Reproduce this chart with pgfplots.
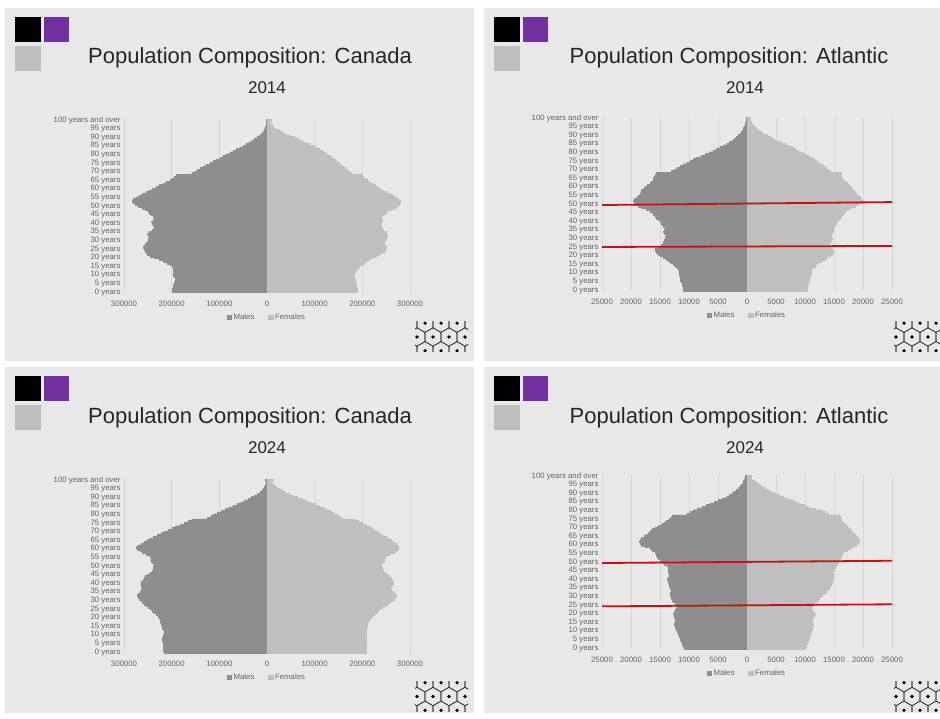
\documentclass[border=0pt]{standalone}
\usepackage{fontspec}
\setmainfont{Liberation Sans}
\usepackage{pgfplots}
\usepackage{pgfplotstable}
\pgfplotsset{compat=1.18}
\definecolor{slidebg}{RGB}{232,232,232}
\definecolor{malec}{RGB}{142,142,142}
\definecolor{femc}{RGB}{191,191,191}
\definecolor{gridc}{RGB}{214,214,214}
\definecolor{labc}{RGB}{100,100,100}
\definecolor{titlec}{RGB}{38,38,38}
\definecolor{purp}{RGB}{112,48,160}
\definecolor{sqgray}{RGB}{190,190,190}
\definecolor{redl}{RGB}{196,18,18}
\definecolor{logoc}{RGB}{50,50,50}

% Canada 2014
\pgfplotstableread{
a m f
0 198000 188000
1 199000 189000
2 198000 189000
3 197000 188000
4 196000 187000
5 195000 186000
6 194000 185000
7 193000 184000
8 193000 183000
9 194000 182000
10 196000 181000
11 197000 182000
12 196000 185000
13 195000 189000
14 196000 191000
15 199000 193000
16 204000 198000
17 210000 203000
18 217000 208000
19 226000 214000
20 237000 221000
21 246000 229000
22 251000 236000
23 253000 242000
24 255000 246000
25 258000 248000
26 259000 249000
27 257000 248000
28 255000 246000
29 252000 245000
30 250000 246000
31 249000 249000
32 248000 251000
33 250000 252000
34 251000 251000
35 247000 249000
36 240000 244000
37 237000 241000
38 236000 239000
39 238000 238000
40 241000 239000
41 242000 240000
42 239000 242000
43 236000 239000
44 238000 240000
45 243000 244000
46 247000 248000
47 250000 253000
48 255000 260000
49 262000 268000
50 270000 274000
51 276000 278000
52 280000 280000
53 282000 279000
54 280000 276000
55 275000 271000
56 268000 265000
57 261000 258000
58 254000 251000
59 247000 244000
60 240000 238000
61 233000 232000
62 226000 227000
63 218000 221000
64 211000 215000
65 204000 211000
66 198000 206000
67 194000 202000
68 190000 200000
69 158000 176000
70 152000 172000
71 146000 168000
72 140000 163000
73 133000 159000
74 127000 155000
75 120000 151000
76 113000 146000
77 106000 142000
78 99000 137000
79 92000 132000
80 85000 127000
81 78000 121000
82 71000 115000
83 64000 109000
84 57000 103000
85 50000 96000
86 44000 89000
87 38000 81000
88 32000 73000
89 26000 65000
90 21000 56000
91 16000 48000
92 12000 39000
93 9000 32000
94 6500 25000
95 4500 18000
96 3200 13000
97 2200 10000
98 1500 7000
99 1000 5000
100 1500 8500
}\canA

% Canada 2024
\pgfplotstableread{
a m f
0 216000 207000
1 217000 208000
2 218000 208000
3 218000 208000
4 217000 208000
5 217000 208000
6 218000 208000
7 219000 209000
8 219000 209000
9 218000 208000
10 217000 207000
11 216000 207000
12 216000 207000
13 217000 208000
14 219000 209000
15 221000 210000
16 222000 210000
17 223000 211000
18 224000 212000
19 225000 215000
20 227000 218000
21 229000 221000
22 232000 225000
23 236000 229000
24 240000 232000
25 244000 235000
26 249000 241000
27 254000 247000
28 258000 253000
29 262000 258000
30 265000 263000
31 268000 267000
32 271000 269000
33 272000 270000
34 270000 268000
35 266000 265000
36 263000 260000
37 261000 258000
38 263000 260000
39 265000 263000
40 265000 264000
41 263000 263000
42 260000 262000
43 258000 261000
44 255000 257000
45 251000 253000
46 246000 248000
47 241000 243000
48 239000 241000
49 239000 241000
50 238000 240000
51 237000 239000
52 240000 242000
53 244000 246000
54 244000 246000
55 242000 244000
56 246000 250000
57 253000 259000
58 261000 267000
59 267000 272000
60 273000 275000
61 274000 276000
62 270000 274000
63 264000 270000
64 258000 265000
65 252000 260000
66 245000 254000
67 238000 249000
68 230000 242000
69 222000 235000
70 215000 230000
71 208000 225000
72 200000 220000
73 192000 214000
74 183000 207000
75 174000 200000
76 166000 192000
77 158000 184000
78 125000 158000
79 118000 152000
80 112000 146000
81 104000 139000
82 96000 132000
83 88000 124000
84 80000 117000
85 72000 109000
86 63000 100000
87 55000 91000
88 47000 82000
89 40000 73000
90 33000 64000
91 26000 55000
92 20000 46000
93 15000 38000
94 11000 31000
95 8000 25000
96 5500 19000
97 4000 14000
98 2700 10000
99 1800 7000
100 3000 12000
}\canB

% Atlantic 2014
\pgfplotstableread{
a m f
0 11000 10300
1 11000 10300
2 11050 10350
3 11150 10450
4 11250 10550
5 11350 10600
6 11450 10700
7 11550 10800
8 11600 10900
9 11650 10950
10 11700 11000
11 11750 11050
12 11850 11100
13 12050 11350
14 12350 11700
15 12700 12000
16 13100 12300
17 13500 12800
18 13900 13400
19 14400 13900
20 14950 14300
21 15300 14600
22 15600 14900
23 15800 14850
24 15900 14700
25 15300 14300
26 14800 14000
27 14500 14150
28 14400 14300
29 14200 14450
30 14100 14600
31 14050 14550
32 14000 14500
33 14200 14600
34 14400 14700
35 14300 14800
36 14100 14900
37 14400 15050
38 14700 15200
39 14850 15350
40 15000 15500
41 15300 15750
42 15600 16000
43 15900 16300
44 16200 16600
45 16400 16750
46 16700 16900
47 17400 17400
48 18200 18000
49 18800 18600
50 19300 19200
51 19500 19500
52 19600 19800
53 19400 19700
54 19000 19500
55 18700 19200
56 18400 18900
57 18300 18600
58 18200 18300
59 17900 18100
60 17600 17900
61 17200 17550
62 16700 17200
63 16450 16900
64 16200 16600
65 16100 16450
66 16000 16300
67 15800 16250
68 15600 16200
69 13000 14300
70 12500 14000
71 12100 13700
72 11550 13300
73 11000 12900
74 10400 12450
75 9800 12000
76 9250 11550
77 8700 11100
78 7950 10550
79 7200 10000
80 6500 9450
81 5800 8900
82 5250 8300
83 4700 7700
84 4100 7150
85 3500 6600
86 3000 5850
87 2500 5100
88 2150 4550
89 1800 4000
90 1500 3400
91 1200 2800
92 950 2400
93 750 2000
94 600 1650
95 450 1300
96 350 1050
97 250 800
98 180 650
99 120 500
100 150 550
}\atlA

% Atlantic 2024
\pgfplotstableread{
a m f
0 10900 10100
1 11000 10150
2 11100 10200
3 11250 10350
4 11400 10500
5 11500 10600
6 11600 10700
7 11700 10800
8 11800 10900
9 11950 11000
10 12100 11100
11 12250 11200
12 12400 11300
13 12450 11350
14 12500 11400
15 12450 11300
16 12400 11200
17 12450 11300
18 12500 11400
19 12600 11550
20 12700 11700
21 12550 11400
22 12400 11200
23 12250 11100
24 12100 11100
25 12250 11350
26 12400 11600
27 12650 11900
28 12900 12200
29 13000 12400
30 13100 12600
31 13200 13000
32 13300 13400
33 13150 13700
34 13000 14000
35 13200 14150
36 13400 14300
37 13500 14450
38 13600 14600
39 13650 14650
40 13700 14700
41 13550 14800
42 13400 14900
43 13500 14800
44 13600 14700
45 13600 14900
46 13600 15100
47 13650 15200
48 13700 15300
49 14200 15500
50 14700 15700
51 15000 15850
52 15300 16000
53 15450 16150
54 15600 16300
55 15750 16450
56 15900 16600
57 16300 17200
58 16700 17800
59 17500 18350
60 18200 18900
61 18400 19100
62 18600 19300
63 18400 19250
64 18200 19200
65 17750 18900
66 17300 18600
67 17000 18300
68 16700 18000
69 16300 17750
70 15900 17500
71 15300 17200
72 14700 16900
73 14300 16600
74 13900 16300
75 13500 16150
76 13100 16000
77 12900 15900
78 10400 14000
79 9850 13400
80 9300 12800
81 8550 11700
82 7800 10600
83 7100 9850
84 6400 9100
85 5650 8400
86 4900 7700
87 4200 7000
88 3500 6300
89 3000 5550
90 2500 4800
91 2150 4200
92 1800 3600
93 1500 3050
94 1200 2500
95 950 2100
96 750 1700
97 600 1300
98 450 900
99 350 700
100 300 700
}\atlB

\pgfplotsset{
 pyr/.style={
  scale only axis, height=173.7pt,
  ymin=-0.5, ymax=100.5, enlargelimits=false,
  scaled x ticks=false,
  axis line style={draw=none}, tick style={draw=none},
  xmajorgrids, grid style={draw=gridc, line width=0.6pt},
  ytick={0,5,10,15,20,25,30,35,40,45,50,55,60,65,70,75,80,85,90,95,100},
  yticklabels={0 years,5 years,10 years,15 years,20 years,25 years,30 years,35 years,40 years,45 years,50 years,55 years,60 years,65 years,70 years,75 years,80 years,85 years,90 years,95 years,100 years and over},
  tick label style={font=\fontsize{7.8}{8}\selectfont, text=labc},
  xticklabel style={yshift=-4.5pt},
  legend style={at={(0.5,-0.138)}, anchor=center, draw=none, fill=none,
    legend columns=2, font=\fontsize{7.8}{8}\selectfont, text=labc,
    /tikz/every even column/.append style={column sep=12pt}},
 },
 canada/.style={pyr, width=286pt, xmin=-300000, xmax=300000,
   xtick={-300000,-200000,-100000,0,100000,200000,300000},
   xticklabels={300000,200000,100000,0,100000,200000,300000}},
 atl/.style={pyr, width=290pt, xmin=-25000, xmax=25000,
   xtick={-25000,-20000,-15000,-10000,-5000,0,5000,10000,15000,20000,25000},
   xticklabels={25000,20000,15000,10000,5000,0,5000,10000,15000,20000,25000}},
 malebar/.style={xbar, bar width=1, bar shift=0pt, fill=malec, draw=malec, line width=0.3pt,
   legend image code/.code={\fill[malec] (0pt,-2.2pt) rectangle (4.4pt,2.2pt);}},
 fembar/.style={xbar, bar width=1, bar shift=0pt, fill=femc, draw=femc, line width=0.3pt,
   legend image code/.code={\fill[femc] (0pt,-2.2pt) rectangle (4.4pt,2.2pt);}},
}

\newcommand{\deco}[2]{%
  \fill[black] (#1+10,718-#2-9) rectangle (#1+36,718-#2-34);
  \fill[purp] (#1+39,718-#2-9) rectangle (#1+64,718-#2-34);
  \fill[sqgray] (#1+10,718-#2-38) rectangle (#1+36,718-#2-63);
}
\newcommand{\hexlogo}[2]{%
  \begin{scope}[shift={(#1,#2)}]
    \clip (0,0) rectangle (53,-30);
    \foreach \cx/\cy in {-14/-15,2/-15,18/-15,34/-15,50/-15,66/-15,-6/-1.2,10/-1.2,26/-1.2,42/-1.2,58/-1.2,-6/-28.8,10/-28.8,26/-28.8,42/-28.8,58/-28.8}{
      \draw[logoc, line width=0.6pt, shift={(\cx,\cy)}] (90:9.2) -- (150:9.2) -- (210:9.2) -- (270:9.2) -- (330:9.2) -- (30:9.2) -- cycle;
      \fill[black] (\cx,\cy) circle (1.8);
    }
  \end{scope}
}

\begin{document}
\begin{tikzpicture}[x=1pt,y=1pt]
\path[use as bounding box, fill=white] (0,0) rectangle (940,718);
% slides
\fill[slidebg] (5,718-8) rectangle (474,718-361.5);
\fill[slidebg] (484,718-8) rectangle (940,718-361.5);
\fill[slidebg] (5,718-367.5) rectangle (474,718-713);
\fill[slidebg] (484,718-367.5) rectangle (940,718-713);
\deco{5}{8}
\deco{484}{8}
\deco{5}{367.5}
\deco{484}{367.5}
\hexlogo{415}{718-322}
\hexlogo{894}{718-322}
\hexlogo{415}{718-681.5}
\hexlogo{894}{718-681.5}
% titles
\node[font=\fontsize{22}{26}\selectfont, text=titlec] at (250,718-58) {Population Composition: Canada};
\node[font=\fontsize{17}{20}\selectfont, text=titlec] at (267,718-88) {2014};
\node[font=\fontsize{22}{26}\selectfont, text=titlec] at (729,718-58) {Population Composition: Atlantic};
\node[font=\fontsize{17}{20}\selectfont, text=titlec] at (745,718-88) {2014};
\node[font=\fontsize{22}{26}\selectfont, text=titlec] at (250,718-418) {Population Composition: Canada};
\node[font=\fontsize{17}{20}\selectfont, text=titlec] at (267,718-448) {2024};
\node[font=\fontsize{22}{26}\selectfont, text=titlec] at (729,718-418) {Population Composition: Atlantic};
\node[font=\fontsize{17}{20}\selectfont, text=titlec] at (745,718-448) {2024};

% Canada 2014
\begin{axis}[canada, at={(124pt,425pt)}, anchor=south west]
\addplot[malebar] table[x expr=-\thisrow{m}, y=a] {\canA};
\addplot[fembar] table[x=f, y=a] {\canA};
\legend{Males,Females}
\end{axis}

% Atlantic 2014
\begin{axis}[atl, at={(602pt,427pt)}, anchor=south west, clip=false]
\addplot[malebar] table[x expr=-\thisrow{m}, y=a] {\atlA};
\addplot[fembar] table[x=f, y=a] {\atlA};
\addplot[redl, line width=1.8pt, forget plot] coordinates {(-25000,49.5) (25000,51.2)};
\addplot[redl, line width=1.8pt, forget plot] coordinates {(-25000,25.1) (25000,25.7)};
\legend{Males,Females}
\end{axis}

% Canada 2024
\begin{axis}[canada, at={(124pt,65pt)}, anchor=south west]
\addplot[malebar] table[x expr=-\thisrow{m}, y=a] {\canB};
\addplot[fembar] table[x=f, y=a] {\canB};
\legend{Males,Females}
\end{axis}

% Atlantic 2024
\begin{axis}[atl, at={(602pt,69pt)}, anchor=south west, clip=false]
\addplot[malebar] table[x expr=-\thisrow{m}, y=a] {\atlB};
\addplot[fembar] table[x=f, y=a] {\atlB};
\addplot[redl, line width=1.8pt, forget plot] coordinates {(-25000,49.5) (25000,50.8)};
\addplot[redl, line width=1.8pt, forget plot] coordinates {(-25000,24.3) (25000,25.5)};
\legend{Males,Females}
\end{axis}
\end{tikzpicture}
\end{document}
